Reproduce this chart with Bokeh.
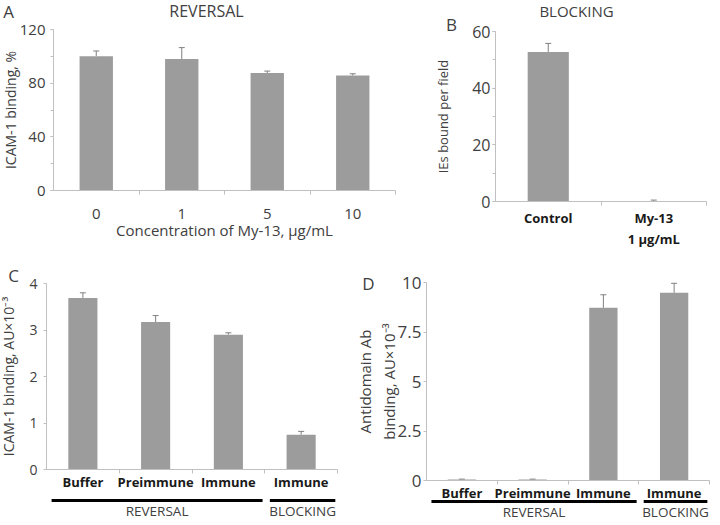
import numpy as np
from bokeh.plotting import figure
from bokeh.models import (Range1d, ColumnDataSource, Whisker, TeeHead, Label,
                          SingleIntervalTicker, FixedTicker)
from bokeh.layouts import column, row
from bokeh.embed import file_html
from bokeh.resources import INLINE

FONT = "Open Sans"
BAR = "#9c9c9c"
AXIS = "#c0c0c0"
TEXT = "#404040"
BOLD = "#1a1a1a"
ERR = "#808080"

# ---------------- data ----------------
# Panel A: reversal, ICAM-1 binding (%) vs My-13 concentration
a_conc = ["0", "1", "5", "10"]
a_binding = [100.0, 98.0, 87.5, 85.7]
a_err = [4.0, 8.5, 1.5, 1.3]

# Panel B: blocking, IEs bound per field
b_cond = ["Control", "My-13\n1 \u03bcg/mL"]
b_ies = [52.8, 0.2]
b_err = [3.0, 0.3]

# Panel C: ICAM-1 binding, AU x 10^-3
c_labels = ["Buffer", "Preimmune", "Immune", "Immune"]
c_groups = ["REVERSAL", "REVERSAL", "REVERSAL", "BLOCKING"]
c_binding = [3.69, 3.17, 2.90, 0.75]
c_err = [0.11, 0.14, 0.04, 0.07]

# Panel D: antidomain Ab binding, AU x 10^-3
d_labels = ["Buffer", "Preimmune", "Immune", "Immune"]
d_groups = ["REVERSAL", "REVERSAL", "REVERSAL", "BLOCKING"]
d_binding = [0.05, 0.05, 8.72, 9.48]
d_err = [0.02, 0.02, 0.66, 0.48]

d_ticks = [0, 2.5, 5, 7.5, 10]
d_tick_labels = ["0", "2.5", "5", "7.5", "10"]


class Panel:
    """A figure whose frame fills the whole canvas; axes are pinned at x=0 / y=0."""

    def __init__(self, g, labels):
        self.g = g
        n = len(labels)
        self.n = n
        self.ppx = (g["r"] - g["l"]) / n
        self.ppy = (g["b"] - g["t"]) / (g["y1"] - g["y0"])
        xr = Range1d(-g["l"] / self.ppx, n + (g["W"] - g["r"]) / self.ppx)
        yr = Range1d(g["y0"] - (g["H"] - g["b"]) / self.ppy, g["y1"] + g["t"] / self.ppy)
        p = figure(width=g["W"], height=g["H"], x_range=xr, y_range=yr,
                   output_backend="svg", toolbar_location=None, min_border=0)
        p.title.visible = False
        p.grid.visible = False
        p.outline_line_color = None
        p.background_fill_color = "white"
        p.border_fill_color = "white"
        for ax in p.axis:
            ax.axis_line_color = AXIS
            ax.major_tick_line_color = AXIS
            ax.minor_tick_line_color = AXIS
            ax.major_label_text_font = FONT
            ax.major_label_text_color = TEXT
            ax.axis_label_text_font = FONT
            ax.axis_label_text_font_style = "normal"
            ax.axis_label_text_color = TEXT
        self.centers = [i + 0.5 for i in range(n)]
        xa = p.xaxis[0]
        xa.fixed_location = g["y0"]
        xa.bounds = (0, n)
        xa.ticker = FixedTicker(ticks=self.centers, minor_ticks=list(range(1, n + 1)))
        xa.major_label_overrides = {c: lab for c, lab in zip(self.centers, labels)}
        xa.major_tick_line_color = None
        xa.major_tick_out = 0
        xa.major_tick_in = 0
        xa.minor_tick_out = 4
        xa.minor_tick_in = 0
        ya = p.yaxis[0]
        ya.fixed_location = 0
        ya.bounds = (g["y0"], g["y1"])
        ya.major_tick_in = 0
        ya.major_tick_out = 3
        ya.minor_tick_in = 0
        ya.minor_tick_out = 3
        self.p = p

    def X(self, fx):
        return (fx - self.g["l"]) / self.ppx

    def Y(self, fy):
        return self.g["y0"] + (self.g["b"] - fy) / self.ppy

    def label(self, fx, fy, text, size, color=TEXT, style="normal"):
        self.p.add_layout(Label(x=self.X(fx), y=self.Y(fy), text=text, text_font=FONT,
                                text_font_size=size, text_color=color,
                                text_font_style=style, text_align="center",
                                text_baseline="middle"))

    def bars(self, vals, errs, width):
        src = ColumnDataSource(dict(x=self.centers, top=vals,
                                    up=[v + e for v, e in zip(vals, errs)]))
        self.p.vbar(x="x", top="top", width=width, source=src, fill_color=BAR, line_color=None)
        self.p.add_layout(Whisker(source=src, base="x", lower="top", upper="up",
                                  dimension="height", line_color=ERR, line_width=1,
                                  lower_head=None,
                                  upper_head=TeeHead(size=6, line_color=ERR, line_width=1)))

    def group_bars(self, groups, line_fy, text_fy, size):
        names = []
        for gname in groups:
            if gname not in names:
                names.append(gname)
        x0s, x1s = [], []
        for gname in names:
            idx = [i for i, gg in enumerate(groups) if gg == gname]
            x0s.append(idx[0] + 0.07)
            x1s.append(idx[-1] + 0.97)
        yl = self.Y(line_fy)
        src = ColumnDataSource(dict(x0=x0s, x1=x1s, y=[yl] * len(names), name=names))
        self.p.segment(x0="x0", y0="y", x1="x1", y1="y", source=src,
                       line_color="black", line_width=3)
        for a, b, nm in zip(x0s, x1s, names):
            self.p.add_layout(Label(x=(a + b) / 2, y=self.Y(text_fy), text=nm,
                                    text_font=FONT, text_font_size=size, text_color=TEXT,
                                    text_align="center", text_baseline="middle"))


# ---------------- Panel A ----------------
A = Panel(dict(W=418, H=249, l=53, r=395, t=29, b=190, y0=0, y1=120), a_conc)
A.bars(a_binding, a_err, 0.39)
pA = A.p
pA.yaxis.ticker = SingleIntervalTicker(interval=40, num_minor_ticks=2)
pA.yaxis.axis_label = "ICAM-1 binding, %"
pA.yaxis.axis_label_text_font_size = "14px"
pA.yaxis.major_label_text_font_size = "15px"
pA.yaxis.major_label_standoff = 5
pA.yaxis.axis_label_standoff = -3
pA.xaxis.axis_label = "Concentration of My-13, \u03bcg/mL"
pA.xaxis.axis_label_text_font_size = "15px"
pA.xaxis.major_label_text_font_size = "15px"
pA.xaxis.major_label_standoff = 14
pA.xaxis.axis_label_standoff = -2
A.label(8, 11, "A", "17px")
A.label(206, 10, "REVERSAL", "16px")

# ---------------- Panel B ----------------
B = Panel(dict(W=294, H=249, l=77, r=288, t=31, b=201, y0=0, y1=60), b_cond)
B.bars(b_ies, b_err, 0.39)
pB = B.p
pB.yaxis.ticker = SingleIntervalTicker(interval=20, num_minor_ticks=2)
pB.yaxis.axis_label = "IEs bound per field"
pB.yaxis.axis_label_text_font_size = "13px"
pB.yaxis.major_label_text_font_size = "16px"
pB.yaxis.major_label_standoff = 2
pB.yaxis.axis_label_standoff = 17
pB.xaxis.major_label_text_font_size = "13px"
pB.xaxis.major_label_text_font_style = "bold"
pB.xaxis.major_label_text_color = BOLD
pB.xaxis.major_label_standoff = 3
B.label(33, 24, "B", "17px")
B.label(158, 10, "BLOCKING", "15px")

# ---------------- Panel C ----------------
C = Panel(dict(W=354, H=270, l=46, r=337, t=34, b=220, y0=0, y1=4), c_labels)
C.bars(c_binding, c_err, 0.40)
pC = C.p
pC.yaxis.ticker = SingleIntervalTicker(interval=1, num_minor_ticks=0)
pC.yaxis.axis_label = "ICAM-1 binding, AU\u00d710\u207b\u00b3"
pC.yaxis.axis_label_text_font_size = "14px"
pC.yaxis.major_label_text_font_size = "14px"
pC.yaxis.major_label_standoff = 6
pC.yaxis.axis_label_standoff = 8
pC.xaxis.major_label_text_font_size = "13px"
pC.xaxis.major_label_text_font_style = "bold"
pC.xaxis.major_label_text_color = BOLD
pC.xaxis.major_label_standoff = -1
C.group_bars(c_groups, 251, 261, "13.5px")
C.label(13, 26, "C", "17px")

# ---------------- Panel D ----------------
D = Panel(dict(W=358, H=270, l=72, r=355, t=33, b=231, y0=0, y1=10), d_labels)
D.bars(d_binding, d_err, 0.40)
pD = D.p
pD.yaxis.ticker = FixedTicker(ticks=d_ticks, minor_ticks=[])
pD.yaxis.major_label_overrides = {t: s for t, s in zip(d_ticks, d_tick_labels)}
pD.yaxis.axis_label = "Antidomain Ab\nbinding, AU\u00d710\u207b\u00b3"
pD.yaxis.axis_label_text_font_size = "15px"
pD.yaxis.major_label_text_font_size = "17px"
pD.yaxis.major_label_standoff = 2
pD.yaxis.axis_label_standoff = -4
pD.xaxis.major_label_text_font_size = "13px"
pD.xaxis.major_label_text_font_style = "bold"
pD.xaxis.major_label_text_color = BOLD
pD.xaxis.major_label_standoff = -1
D.group_bars(d_groups, 252, 262, "13.5px")
D.label(14, 34, "D", "17px")

layout = column(row(pA, pB), row(pC, pD))
open("out.html", "w").write(file_html(layout, INLINE))
